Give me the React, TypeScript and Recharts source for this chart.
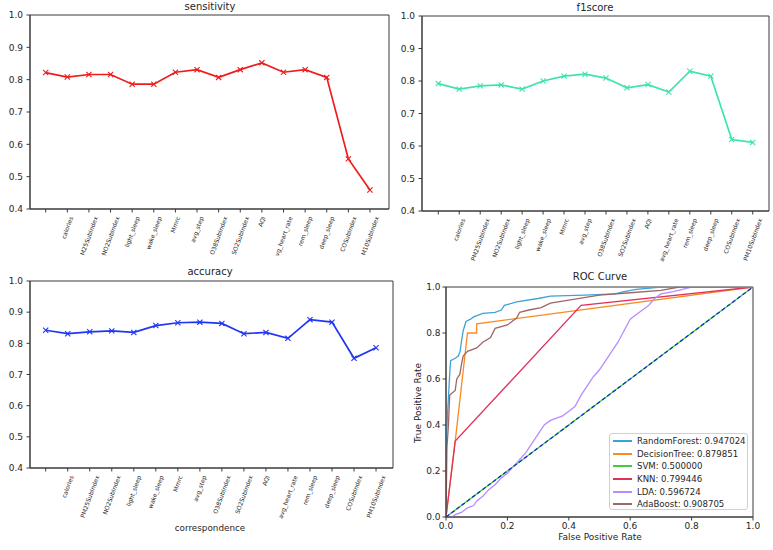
import React from 'react';
import { LineChart, Line, XAxis, YAxis, ReferenceArea } from 'recharts';

const FONT = '"DejaVu Sans", sans-serif';
const INK = '#262626';
const SPINE = '#3a3a3a';

// feature names on the x axis (first tick has no label)
const featureLabels = [
  '', 'calories', 'PM25SubIndex', 'NO2SubIndex', 'light_sleep', 'wake_sleep', 'Mmrc', 'avg_step',
  'O38SubIndex', 'SO2SubIndex', 'AQI', 'avg_heart_rate', 'rem_sleep', 'deep_sleep', 'COSubIndex', 'PM10SubIndex',
];
// the sensitivity panel shows its labels clipped
const sensitivityLabels = [
  '', 'calories', 'M25SubIndex', 'NO2SubIndex', 'light_sleep', 'wake_sleep', 'Mmrc', 'avg_step',
  'O38SubIndex', 'SO2SubIndex', 'AQI', 'vg_heart_rate', 'rem_sleep', 'deep_sleep', 'COSubIndex', 'M10SubIndex',
];

const sensitivity = [0.822, 0.808, 0.816, 0.816, 0.786, 0.786, 0.823, 0.831, 0.807, 0.831, 0.852, 0.823, 0.831, 0.807, 0.555, 0.459];
const f1score = [0.792, 0.775, 0.785, 0.788, 0.775, 0.8, 0.815, 0.821, 0.809, 0.779, 0.789, 0.766, 0.83, 0.815, 0.62, 0.611];
const accuracy = [0.842, 0.831, 0.837, 0.84, 0.835, 0.857, 0.866, 0.868, 0.864, 0.831, 0.835, 0.816, 0.876, 0.868, 0.752, 0.786];

const scoreTicks = [0.4, 0.5, 0.6, 0.7, 0.8, 0.9, 1.0];
const featureTicks = featureLabels.map((_, i) => i);
const rocTicks = [0, 0.2, 0.4, 0.6, 0.8, 1];

// ROC curves as [false positive rate, true positive rate]
const rocRandomForest = [
  [0, 0], [0, 0.3], [0.005, 0.45], [0.008, 0.52], [0.012, 0.62], [0.015, 0.68], [0.03, 0.69], [0.04, 0.7],
  [0.046, 0.72], [0.05, 0.76], [0.056, 0.81], [0.065, 0.85], [0.08, 0.86], [0.09, 0.87], [0.12, 0.885],
  [0.16, 0.89], [0.18, 0.9], [0.19, 0.92], [0.23, 0.935], [0.3, 0.95], [0.34, 0.96], [0.45, 0.965],
  [0.55, 0.97], [0.58, 0.98], [0.62, 0.99], [0.7, 1.0], [1, 1],
];
const rocDecisionTree = [[0, 0], [0.03, 0.33], [0.07, 0.8], [0.1, 0.8], [0.1, 0.84], [1, 1]];
const rocSvm = [[0, 0], [1, 1]];
const rocKnn = [[0, 0], [0.03, 0.33], [0.44, 0.92], [1, 1]];
const rocLda = [
  [0, 0], [0.02, 0], [0.03, 0.01], [0.05, 0.02], [0.07, 0.04], [0.09, 0.05], [0.1, 0.07], [0.12, 0.09],
  [0.14, 0.12], [0.16, 0.14], [0.18, 0.17], [0.2, 0.19], [0.22, 0.22], [0.24, 0.25], [0.26, 0.28],
  [0.28, 0.32], [0.3, 0.36], [0.32, 0.4], [0.34, 0.42], [0.36, 0.43], [0.38, 0.44], [0.4, 0.46],
  [0.42, 0.48], [0.44, 0.53], [0.46, 0.57], [0.48, 0.61], [0.5, 0.64], [0.52, 0.68], [0.54, 0.72],
  [0.56, 0.76], [0.58, 0.81], [0.6, 0.86], [0.62, 0.88], [0.64, 0.9], [0.66, 0.92], [0.68, 0.95],
  [0.7, 0.97], [0.74, 0.98], [0.77, 0.99], [0.8, 1.0], [1, 1],
];
const rocAdaBoost = [
  [0, 0], [0.003, 0.3], [0.008, 0.4], [0.012, 0.53], [0.03, 0.55], [0.035, 0.6], [0.045, 0.62], [0.05, 0.66],
  [0.056, 0.7], [0.07, 0.72], [0.1, 0.735], [0.12, 0.76], [0.145, 0.78], [0.16, 0.82], [0.2, 0.835],
  [0.23, 0.865], [0.24, 0.89], [0.27, 0.9], [0.31, 0.91], [0.34, 0.93], [0.4, 0.943], [0.5, 0.965],
  [0.6, 0.975], [0.7, 0.985], [0.76, 1.0], [1, 1],
];
const chanceLine = [[0, 0], [1, 1]];

const modelNames = ['RandomForest', 'DecisionTree', 'SVM', 'KNN', 'LDA', 'AdaBoost'];
const modelAuc = ['0.947024', '0.879851', '0.500000', '0.799446', '0.596724', '0.908705'];
const modelCurves = [rocRandomForest, rocDecisionTree, rocSvm, rocKnn, rocLda, rocAdaBoost];
const modelColors = ['#3fa3d6', '#f98b22', '#3ccf3c', '#e2305c', '#b78cff', '#9e6767'];

const toXY = (pts: number[][]) => pts.map(([x, y]) => ({ x, y }));

let measureCtx: CanvasRenderingContext2D | null = null;
function textWidth(s: string, size: number) {
  if (!measureCtx) measureCtx = document.createElement('canvas').getContext('2d');
  if (!measureCtx) return s.length * size * 0.6;
  measureCtx.font = `${size}px "DejaVu Sans"`;
  return measureCtx.measureText(s).width;
}

// matplotlib style rotation=70: bounding box centred under the tick
const RotTick = (props: any) => {
  const { x, y, payload, labels } = props;
  const s = labels[payload.value] ?? '';
  if (!s) return null;
  const fs = 6;
  const L = textWidth(s, fs);
  const h = 0.73 * fs;
  const c = Math.cos((70 * Math.PI) / 180);
  const sn = Math.sin((70 * Math.PI) / 180);
  const ax = x + 0.5 * c * L + 0.5 * sn * h;
  const ay = y + c * h;
  return (
    <text x={ax} y={ay} transform={`rotate(-70 ${ax} ${ay})`} textAnchor="end" fontSize={fs} fill={INK} fontFamily={FONT}>
      {s}
    </text>
  );
};

const xMark = (color: string) => (p: any) => {
  const { cx, cy, index } = p;
  if (cx == null || cy == null) return <g key={index} />;
  const r = 2.6;
  return (
    <path
      key={index}
      d={`M${cx - r},${cy - r}L${cx + r},${cy + r}M${cx - r},${cy + r}L${cx + r},${cy - r}`}
      stroke={color}
      strokeWidth={1.1}
      fill="none"
    />
  );
};

interface ScorePanelProps {
  left: number;
  top: number;
  width: number;
  height: number;
  plot: { l: number; t: number; r: number; b: number };
  values: number[];
  labels: string[];
  color: string;
  domain: [number, number];
}

const ScorePanel: React.FC<ScorePanelProps> = ({ left, top, width, height, plot, values, labels, color, domain }) => {
  const rows = values.map((v, i) => ({ i, v }));
  return (
    <div style={{ position: 'absolute', left, top, width, height }}>
      <LineChart
        width={width}
        height={height}
        data={rows}
        margin={{ top: plot.t, right: width - plot.r, left: 0, bottom: 0 }}
        style={{ fontFamily: FONT }}
      >
        <XAxis
          type="number"
          dataKey="i"
          domain={domain}
          allowDataOverflow
          ticks={featureTicks}
          interval={0}
          height={height - plot.b}
          tickSize={3.5}
          tickMargin={3.5}
          stroke={SPINE}
          tick={<RotTick labels={labels} />}
        />
        <YAxis
          type="number"
          domain={[0.4, 1.0]}
          allowDataOverflow
          ticks={scoreTicks}
          interval={0}
          width={plot.l}
          tickSize={3.5}
          tickMargin={3.5}
          stroke={SPINE}
          tick={{ fontSize: 9, fill: INK, fontFamily: FONT }}
          tickFormatter={(v: number) => v.toFixed(1)}
        />
        <ReferenceArea x1={domain[0]} x2={domain[1]} y1={0.4} y2={1.0} fill="none" stroke={SPINE} strokeWidth={1} ifOverflow="visible" />
        <Line
          dataKey="v"
          stroke={color}
          strokeWidth={1.7}
          dot={xMark(color)}
          activeDot={false}
          isAnimationActive={false}
        />
      </LineChart>
    </div>
  );
};

const Label: React.FC<{ x: number; y: number; text: string; size?: number; rotate?: boolean }> = ({ x, y, text, size = 10, rotate }) => (
  <div
    style={{
      position: 'absolute',
      left: x - 80,
      top: y - 7,
      width: 160,
      height: 14,
      lineHeight: '14px',
      textAlign: 'center',
      fontSize: size,
      color: INK,
      whiteSpace: 'nowrap',
      transform: rotate ? 'rotate(-90deg)' : undefined,
    }}
  >
    {text}
  </div>
);

const RocPanel: React.FC = () => {
  const left = 395;
  const top = 265;
  const width = 378;
  const height = 285;
  const plot = { l: 51, t: 22, r: 358, b: 252 };
  return (
    <div style={{ position: 'absolute', left, top, width, height }}>
      <LineChart width={width} height={height} margin={{ top: plot.t, right: width - plot.r, left: 0, bottom: 0 }} style={{ fontFamily: FONT }}>
        <XAxis
          type="number"
          dataKey="x"
          domain={[0, 1]}
          allowDataOverflow
          ticks={rocTicks}
          interval={0}
          height={height - plot.b}
          tickSize={3.5}
          tickMargin={2}
          stroke={SPINE}
          tick={{ fontSize: 9, fill: INK, fontFamily: FONT }}
          tickFormatter={(v: number) => v.toFixed(1)}
        />
        <YAxis
          type="number"
          dataKey="y"
          domain={[0, 1]}
          allowDataOverflow
          ticks={rocTicks}
          interval={0}
          width={plot.l}
          tickSize={3.5}
          tickMargin={2}
          stroke={SPINE}
          tick={{ fontSize: 9, fill: INK, fontFamily: FONT }}
          tickFormatter={(v: number) => v.toFixed(1)}
        />
        <ReferenceArea x1={0} x2={1} y1={0} y2={1} fill="none" stroke={SPINE} strokeWidth={1} ifOverflow="visible" />
        {modelCurves.map((pts, k) => (
          <Line
            key={modelNames[k]}
            data={toXY(pts)}
            dataKey="y"
            type="linear"
            stroke={modelColors[k]}
            strokeWidth={1.3}
            dot={false}
            activeDot={false}
            isAnimationActive={false}
          />
        ))}
        <Line
          data={toXY(chanceLine)}
          dataKey="y"
          stroke="#1b2bcc"
          strokeWidth={1.3}
          strokeDasharray="4 2.5"
          dot={false}
          activeDot={false}
          isAnimationActive={false}
        />
      </LineChart>
    </div>
  );
};

const RocLegend: React.FC = () => (
  <div
    style={{
      position: 'absolute',
      left: 609,
      top: 433,
      width: 139,
      height: 77,
      border: '1px solid #d0d0d0',
      borderRadius: 3,
      background: 'rgba(255,255,255,0.85)',
      boxSizing: 'border-box',
    }}
  >
    {modelNames.map((name, k) => (
      <div key={name} style={{ position: 'absolute', left: 0, top: Math.round(1 + k * 12.65), height: 12, width: 137 }}>
        <div style={{ position: 'absolute', left: 3, top: 5, width: 19, height: 2, background: modelColors[k] }} />
        <div style={{ position: 'absolute', left: 27, top: 0, lineHeight: '12px', fontSize: 8.6, color: INK, whiteSpace: 'nowrap' }}>
          {`${name}: ${modelAuc[k]}`}
        </div>
      </div>
    ))}
  </div>
);

export default function App() {
  return (
    <div style={{ position: 'absolute', left: 0, top: 0, width: 773, height: 550, background: '#fff', fontFamily: FONT, overflow: 'hidden' }}>
      <ScorePanel
        left={0}
        top={0}
        width={392}
        height={265}
        plot={{ l: 30, t: 15, r: 389, b: 209 }}
        values={sensitivity}
        labels={sensitivityLabels}
        color="#ee1c1c"
        domain={[-0.726, 15.88]}
      />
      <ScorePanel
        left={392}
        top={0}
        width={381}
        height={265}
        plot={{ l: 30, t: 16, r: 377, b: 211 }}
        values={f1score}
        labels={featureLabels}
        color="#3fe3b0"
        domain={[-0.777, 15.777]}
      />
      <ScorePanel
        left={0}
        top={265}
        width={395}
        height={285}
        plot={{ l: 30, t: 16, r: 393, b: 203 }}
        values={accuracy}
        labels={featureLabels}
        color="#2036f5"
        domain={[-0.713, 15.77]}
      />
      <RocPanel />
      <RocLegend />

      <Label x={210} y={7} text="sensitivity" />
      <Label x={595} y={8} text="f1score" />
      <Label x={210} y={272} text="accuracy" />
      <Label x={600} y={277} text="ROC Curve" />
      <Label x={210} y={528} text="correspondence" size={8.8} />
      <Label x={600} y={537} text="False Positive Rate" size={9} />
      <Label x={418} y={403} text="True Positive Rate" size={9} rotate />
    </div>
  );
}
